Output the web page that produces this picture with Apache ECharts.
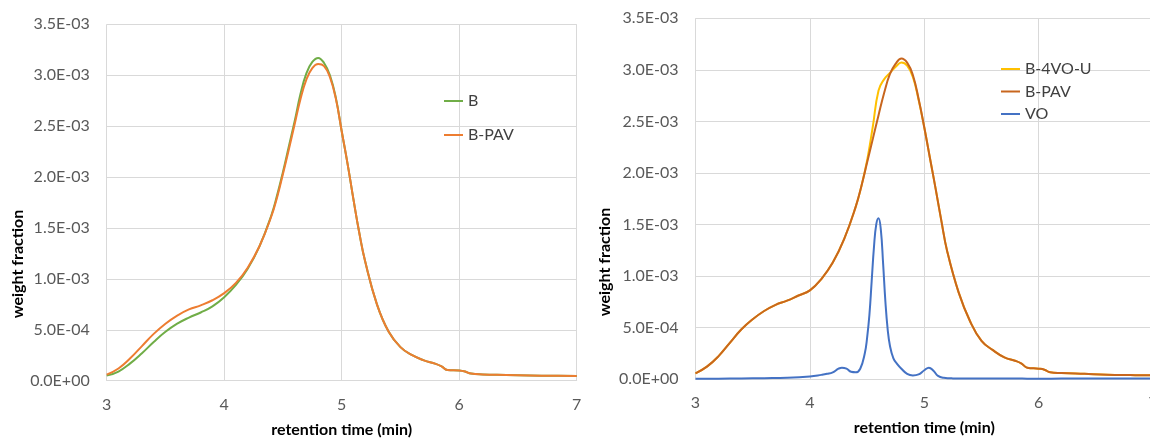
<!DOCTYPE html>
<html>
<head>
<meta charset="utf-8">
<script src="https://cdn.jsdelivr.net/npm/echarts@6/dist/echarts.min.js"></script>
<style>
html,body{margin:0;padding:0;background:#fff;}
#c{width:1150px;height:439px;}
</style>
</head>
<body>
<div id="c"></div>
<script>
// retention time grid (min) for the broad curves
const retention = [3.0,3.1,3.2,3.3,3.4,3.5,3.6,3.7,3.8,3.9,4.0,4.1,4.2,4.3,
  4.4,4.45,4.5,4.55,4.6,4.65,4.7,4.75,4.8,4.85,4.9,4.95,5.0,5.05,5.1,5.15,5.2,
  5.3,5.4,5.5,5.6,5.7,5.8,5.85,5.9,6.0,6.05,6.1,6.2,6.4,6.6,6.8,7.0];

// weight fraction values in units of 1E-03
// left panel
const leftB = [0.05,0.09,0.17,0.27,0.38,0.48,0.56,0.62,0.67,0.73,0.82,0.94,1.10,1.32,
  1.62,1.82,2.05,2.30,2.55,2.82,3.02,3.13,3.17,3.12,3.00,2.78,2.45,2.13,1.78,1.45,1.17,
  0.75,0.48,0.33,0.25,0.20,0.165,0.14,0.105,0.10,0.09,0.07,0.062,0.057,0.052,0.048,0.046];
const leftBPAV = [0.06,0.12,0.22,0.34,0.46,0.56,0.64,0.70,0.74,0.79,0.86,0.96,1.11,1.32,
  1.61,1.80,2.03,2.27,2.52,2.77,2.96,3.07,3.11,3.09,2.98,2.77,2.45,2.13,1.78,1.45,1.17,
  0.75,0.48,0.33,0.25,0.20,0.165,0.14,0.105,0.10,0.09,0.07,0.062,0.057,0.052,0.048,0.046];
// right panel
const rightB4VOU = [0.055,0.12,0.22,0.35,0.48,0.58,0.66,0.72,0.76,0.81,0.86,0.97,1.13,1.36,
  1.67,1.87,2.12,2.45,2.80,2.91,2.97,3.03,3.07,3.04,2.93,2.71,2.44,2.14,1.84,1.53,1.24,
  0.84,0.56,0.37,0.28,0.21,0.175,0.15,0.11,0.10,0.09,0.065,0.058,0.05,0.042,0.038,0.035];
const rightBPAV = [0.055,0.12,0.22,0.35,0.48,0.58,0.66,0.72,0.76,0.81,0.86,0.97,1.13,1.36,
  1.67,1.87,2.10,2.33,2.56,2.78,2.96,3.06,3.11,3.07,2.95,2.72,2.44,2.14,1.84,1.53,1.24,
  0.84,0.56,0.37,0.28,0.21,0.175,0.15,0.11,0.10,0.09,0.065,0.058,0.05,0.042,0.038,0.035];

// VO has its own finer time grid
const voTime = [3.0,3.2,3.4,3.6,3.8,4.0,4.1,4.15,4.2,4.25,4.28,4.32,4.36,4.4,4.44,4.48,
  4.5,4.52,4.54,4.56,4.58,4.6,4.62,4.64,4.66,4.68,4.7,4.73,4.76,4.8,4.85,4.9,4.95,5.0,
  5.04,5.08,5.12,5.17,5.25,5.4,5.6,5.8,5.9,6.0,6.2,6.5,7.0];
const voValues = [0.002,0.003,0.005,0.008,0.012,0.025,0.04,0.05,0.065,0.10,0.11,0.10,0.07,0.065,0.10,0.25,
  0.40,0.62,0.95,1.28,1.50,1.56,1.45,1.12,0.75,0.48,0.32,0.20,0.15,0.10,0.05,0.035,0.045,0.085,
  0.11,0.08,0.03,0.012,0.006,0.005,0.005,0.006,0.003,0.002,0.004,0.005,0.005];

const yTicks = ['0.0E+00','5.0E-04','1.0E-03','1.5E-03','2.0E-03','2.5E-03','3.0E-03','3.5E-03'];
const xTicks = ['3','4','5','6','7'];

const SCALE = 1e-3;
const pairs = (ts, vs) => ts.map((t, i) => [t, vs[i] * SCALE]);

const FONT = 'Lato';
const labelColor = '#595959';
const gridColor = '#d9d9d9';

function xAxisCfg(gridIndex) {
  return {
    type: 'value', gridIndex, min: 3, max: 7, interval: 1,
    name: 'retention time (min)', nameLocation: 'middle', nameGap: 41,
    nameTextStyle: {fontFamily: FONT, fontWeight: 'bold', fontSize: 16, color: '#000'},
    axisLine: {show: true, lineStyle: {color: gridColor, width: 1}},
    axisTick: {show: false},
    axisLabel: {fontFamily: FONT, fontSize: 16, color: labelColor, margin: 16,
      showMinLabel: true, showMaxLabel: true,
      formatter: v => xTicks[Math.round(v) - 3]},
    splitLine: {show: true, lineStyle: {color: gridColor, width: 1}}
  };
}
function yAxisCfg(gridIndex) {
  return {
    type: 'value', gridIndex, min: 0, max: 3.5 * SCALE, interval: 0.5 * SCALE,
    axisLine: {show: false}, axisTick: {show: false},
    axisLabel: {fontFamily: FONT, fontSize: 16, color: labelColor, margin: 17,
      formatter: v => yTicks[Math.round(v / (0.5 * SCALE))]},
    splitLine: {show: true, lineStyle: {color: gridColor, width: 1}}
  };
}
function line(name, data, color, xi) {
  return {
    type: 'line', name, data, xAxisIndex: xi, yAxisIndex: xi,
    symbol: 'none', smooth: 0.45,
    lineStyle: {color, width: 2}, itemStyle: {color},
    emphasis: {disabled: true}, animation: false
  };
}

const legendText = {fontFamily: FONT, fontSize: 16, color: '#404040', lineHeight: 16};

const chart = echarts.init(document.getElementById('c'), null, {renderer: 'canvas'});
chart.setOption({
  animation: false,
  backgroundColor: '#fff',
  grid: [
    {left: 106.7, top: 24.3, width: 470, height: 356.4, outerBoundsMode: 'none', containLabel: false},
    {left: 695.5, top: 18.3, width: 457.6, height: 360.7, outerBoundsMode: 'none', containLabel: false}
  ],
  xAxis: [xAxisCfg(0), xAxisCfg(1)],
  yAxis: [yAxisCfg(0), yAxisCfg(1)],
  legend: [
    {orient: 'vertical', left: 444, top: 93, padding: 0, icon: 'rect',
     itemWidth: 19, itemHeight: 2, itemGap: 18,
     data: ['B', 'B-PAV'], textStyle: legendText},
    {orient: 'vertical', left: 1001, top: 61, padding: 0, icon: 'rect',
     itemWidth: 19, itemHeight: 2, itemGap: 6.5,
     data: ['B-4VO-U', 'B-PAV ', 'VO'], textStyle: legendText}
  ],
  graphic: [
    {type: 'text', x: 18, y: 264, rotation: Math.PI / 2,
     style: {text: 'weight fraction', font: 'bold 16px Lato', fill: '#000', align: 'center', verticalAlign: 'middle'}},
    {type: 'text', x: 605, y: 262, rotation: Math.PI / 2,
     style: {text: 'weight fraction', font: 'bold 16px Lato', fill: '#000', align: 'center', verticalAlign: 'middle'}}
  ],
  series: [
    line('B', pairs(retention, leftB), '#70ad47', 0),
    line('B-PAV', pairs(retention, leftBPAV), '#ed7d31', 0),
    line('B-4VO-U', pairs(retention, rightB4VOU), '#ffc000', 1),
    line('B-PAV ', pairs(retention, rightBPAV), '#c8661e', 1),
    line('VO', pairs(voTime, voValues), '#4472c4', 1)
  ]
});
</script>
</body>
</html>
